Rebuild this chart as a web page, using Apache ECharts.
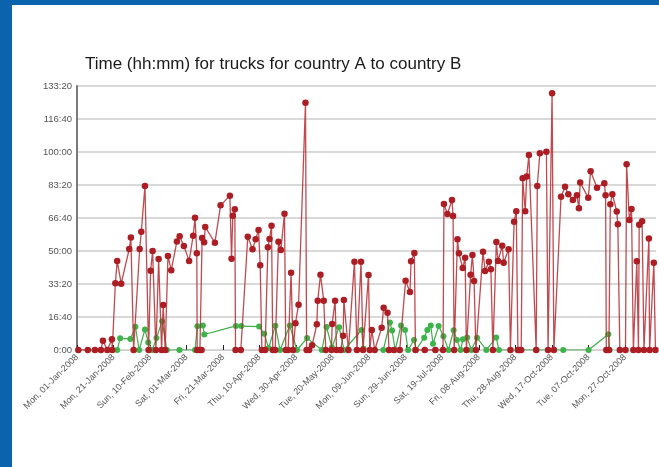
<!DOCTYPE html>
<html>
<head>
<meta charset="utf-8">
<script src="https://cdn.jsdelivr.net/npm/echarts@6/dist/echarts.min.js"></script>
<style>
  body { margin: 0; background: #0b63ae; }
  #frame { position: absolute; left: 0; top: 0; width: 659px; height: 467px; background: #0b63ae; }
  #chart { position: absolute; left: 12px; top: 5px; width: 647px; height: 462px; background: #ffffff; }
</style>
</head>
<body>
<div id="frame"><div id="chart"></div></div>
<script>
// x = days since 1 Jan 2008, y = minutes
var tickLabels = ['Mon, 01-Jan-2008', 'Mon, 21-Jan-2008', 'Sun, 10-Feb-2008', 'Sat, 01-Mar-2008',
    'Fri, 21-Mar-2008', 'Thu, 10-Apr-2008', 'Wed, 30-Apr-2008', 'Tue, 20-May-2008',
    'Mon, 09-Jun-2008', 'Sun, 29-Jun-2008', 'Sat, 19-Jul-2008', 'Fri, 08-Aug-2008',
    'Thu, 28-Aug-2008', 'Wed, 17-Oct-2008', 'Tue, 07-Oct-2008', 'Mon, 27-Oct-2008'];

var redTrucks = [
    [0.7, 0], [5.9, 0], [9.8, 0], [13.1, 0], [14.2, 283], [16.6, 0], [19.1, 323], [19.3, 0],
    [21.0, 2020], [22.0, 2700], [24.2, 2010], [28.6, 3060], [29.5, 3410], [31.0, 0],
    [34.3, 3060], [35.2, 3580], [37.2, 4970], [39.2, 0], [40.3, 2400], [41.4, 3000], [43.2, 0],
    [44.7, 2760], [46.3, 0], [47.2, 1360], [48.3, 0], [49.8, 2850], [51.6, 2420], [54.7, 3290],
    [56.2, 3450], [58.5, 3150], [61.4, 2700], [63.6, 3460], [64.6, 4010], [65.6, 2930], [65.8, 0],
    [67.3, 0], [68.2, 0], [68.5, 3394], [69.6, 3263], [70.2, 3727], [75.5, 3253], [78.6, 4384],
    [83.7, 4677], [84.6, 2768], [85.3, 4070], [86.4, 4263], [86.8, 0], [89.7, 0], [93.5, 3434],
    [96.1, 3050], [97.8, 3353], [99.4, 3636], [100.3, 2566], [101.2, 0], [103.0, 0], [104.5, 3111],
    [105.4, 3364], [106.5, 3768], [107.2, 0], [108.5, 0], [110.3, 3283], [111.6, 3030],
    [113.6, 4131], [114.3, 0], [115.6, 0], [117.2, 2343], [118.3, 0], [119.6, 808], [121.3, 1374],
    [125.1, 7495], [125.7, 0], [127.1, 0], [128.7, 141], [131.3, 778], [131.8, 1495], [133.3, 2283],
    [135.1, 1495], [136.2, 0], [139.3, 0], [139.7, 788], [141.3, 1495], [142.1, 0], [144.4, 0],
    [145.7, 434], [146.1, 1515], [148.6, 0], [151.9, 2677], [153.3, 0], [155.5, 2677], [156.6, 0],
    [159.6, 2273], [160.3, 0], [161.4, 606], [163.0, 0], [166.8, 677], [167.9, 1283], [170.0, 1131],
    [170.8, 0], [173.4, 0], [176.7, 0], [179.9, 2101], [182.3, 1758], [182.9, 2687], [184.7, 2939],
    [185.3, 0], [190.4, 0], [196.2, 0], [200.4, 0], [200.9, 4424], [202.8, 4121], [205.3, 4545],
    [205.9, 4060], [206.5, 0], [208.3, 3353], [209.1, 2929], [211.2, 2485], [212.5, 2798],
    [213.2, 0], [215.5, 2283], [216.5, 2879], [217.4, 2091], [218.4, 0], [222.3, 2980],
    [223.4, 2394], [225.5, 2677], [226.6, 2444], [227.7, 0], [229.6, 3273], [230.5, 2697],
    [232.8, 3157], [233.6, 2646], [236.3, 3050], [237.3, 0], [239.3, 3889], [240.5, 4202],
    [241.4, 0], [242.3, 0], [243.2, 0], [244.0, 5202], [245.4, 4207], [246.2, 5258], [247.4, 5909],
    [251.4, 0], [252.0, 4970], [253.4, 5960], [257.0, 6005], [257.9, 0], [260.1, 7778], [261.1, 0],
    [265.0, 4646], [267.2, 4949], [269.0, 4722], [271.5, 4545], [273.7, 4687], [274.8, 4298],
    [275.5, 5076], [279.9, 4611], [281.2, 5414], [284.7, 4919], [288.7, 5056], [289.4, 4687],
    [289.8, 0], [291.2, 0], [292.0, 4419], [293.1, 4722], [295.5, 4197], [296.1, 3808], [297.2, 0],
    [300.3, 0], [300.9, 5626], [302.4, 3939], [303.6, 4273], [304.6, 0], [306.5, 2692], [307.4, 0],
    [307.8, 3793], [309.4, 3900], [310.4, 0], [313.1, 3379], [313.5, 0], [315.8, 2646], [316.7, 0]
];

var greenTrucks = [
    [22.0, 0], [23.6, 355], [29.2, 335], [32.0, 705], [34.0, 0], [37.2, 620], [39.0, 228],
    [41.2, 0], [43.5, 360], [46.6, 875], [49.2, 0], [56.1, 0], [64.6, 0], [65.9, 720], [68.9, 745],
    [69.7, 470], [87.0, 730], [89.9, 725], [99.7, 710], [102.5, 490], [104.9, 60], [108.6, 735],
    [111.2, 0], [116.5, 742], [120.4, 0], [126.0, 360], [134.0, 0], [136.6, 697], [139.6, 75],
    [143.5, 692], [146.2, 0], [155.8, 606], [156.8, 45], [167.7, 0], [171.3, 835], [172.5, 588],
    [174.2, 0], [177.4, 744], [179.6, 608], [181.3, 0], [184.5, 304], [185.6, 0], [190.1, 375],
    [191.8, 608], [193.7, 744], [194.9, 188], [198.0, 724], [200.6, 420], [203.4, 0], [206.2, 598],
    [208.0, 305], [210.0, 0], [211.3, 324], [213.6, 380], [215.9, 0], [219.0, 374], [224.1, 0],
    [229.5, 379], [231.0, 0], [266.2, 0], [280.1, 0], [290.9, 475], [291.6, 0]
];

function hhmm(v) {
    var h = Math.floor(v / 60);
    var m = Math.round(v % 60);
    return h + ':' + (m < 10 ? '0' + m : m);
}

var chart = echarts.init(document.getElementById('chart'));
var option = {
    animation: false,
    backgroundColor: '#ffffff',
    title: {
        text: 'Time (hh:mm) for trucks for country A to country B',
        left: 68,
        top: 46,
        textStyle: {
            color: '#1a1a1a',
            fontFamily: 'Liberation Sans',
            fontSize: 17,
            fontWeight: 'normal'
        }
    },
    grid: {
        left: 65,
        right: 3,
        top: 81,
        bottom: 117,
        containLabel: false
    },
    xAxis: {
        type: 'value',
        min: 0,
        max: 317,
        interval: 20,
        splitLine: { show: false },
        axisLine: { lineStyle: { color: '#d0d0d0', width: 1 } },
        axisTick: { inside: true, length: 5, lineStyle: { color: '#222' } },
        axisLabel: {
            rotate: 45,
            margin: 6,
            fontFamily: 'Liberation Sans',
            fontSize: 9,
            color: '#555',
            showMaxLabel: false,
            formatter: function (v) {
                if (v % 20 !== 0) return '';
                return tickLabels[v / 20] || '';
            }
        }
    },
    yAxis: {
        type: 'value',
        min: 0,
        max: 8000,
        interval: 1000,
        axisLine: { show: true, lineStyle: { color: '#7a7a7a', width: 2 } },
        axisTick: { show: false },
        splitLine: { lineStyle: { color: '#cccccc', width: 1.5 } },
        axisLabel: {
            margin: 5,
            fontFamily: 'Liberation Sans',
            fontSize: 9.5,
            color: '#555',
            formatter: hhmm
        }
    },
    series: [
        {
            name: 'green',
            type: 'line',
            data: greenTrucks,
            symbol: 'circle',
            symbolSize: 6,
            itemStyle: { color: '#3bb44a' },
            lineStyle: { color: '#3fae4c', width: 1.2 },
            z: 2
        },
        {
            name: 'red',
            type: 'line',
            data: redTrucks,
            symbol: 'circle',
            symbolSize: 6.5,
            itemStyle: { color: '#ac1d24' },
            lineStyle: { color: '#b52a31', width: 1.3, opacity: 0.85 },
            z: 3
        }
    ]
};
chart.setOption(option);
</script>
</body>
</html>
